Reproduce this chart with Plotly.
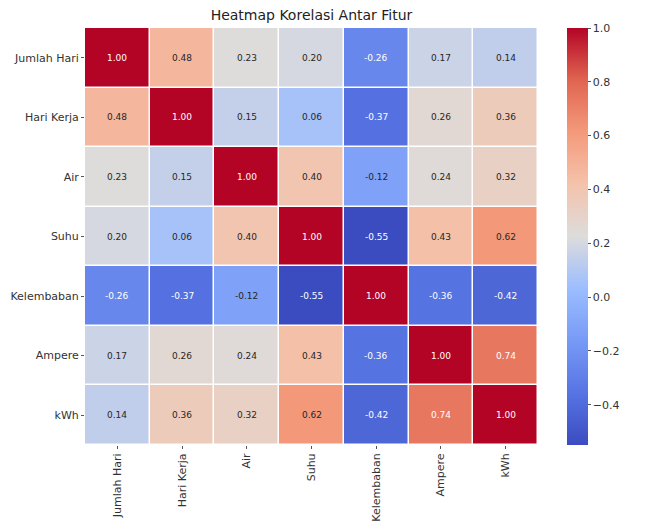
import plotly.graph_objects as go

# Feature names (rows and columns of the correlation matrix)
features = ["Jumlah Hari", "Hari Kerja", "Air", "Suhu", "Kelembaban", "Ampere", "kWh"]

# Pairwise correlation coefficients, one list per feature
corr_jumlah_hari = [1.00, 0.48, 0.23, 0.20, -0.26, 0.17, 0.14]
corr_hari_kerja = [0.48, 1.00, 0.15, 0.06, -0.37, 0.26, 0.36]
corr_air = [0.23, 0.15, 1.00, 0.40, -0.12, 0.24, 0.32]
corr_suhu = [0.20, 0.06, 0.40, 1.00, -0.55, 0.43, 0.62]
corr_kelembaban = [-0.26, -0.37, -0.12, -0.55, 1.00, -0.36, -0.42]
corr_ampere = [0.17, 0.26, 0.24, 0.43, -0.36, 1.00, 0.74]
corr_kwh = [0.14, 0.36, 0.32, 0.62, -0.42, 0.74, 1.00]

colorbar_ticks = [-0.4, -0.2, 0.0, 0.2, 0.4, 0.6, 0.8, 1.0]

matrix = [corr_jumlah_hari, corr_hari_kerja, corr_air, corr_suhu,
          corr_kelembaban, corr_ampere, corr_kwh]

# Diverging blue-grey-red scale (coolwarm style)
coolwarm = [
    [0.000, "rgb(59,76,192)"],
    [0.125, "rgb(87,116,227)"],
    [0.250, "rgb(119,154,246)"],
    [0.375, "rgb(156,189,254)"],
    [0.500, "rgb(221,220,220)"],
    [0.625, "rgb(244,195,171)"],
    [0.750, "rgb(244,154,123)"],
    [0.875, "rgb(224,101,80)"],
    [1.000, "rgb(180,4,38)"],
]

zmin = min(min(r) for r in matrix)
zmax = max(max(r) for r in matrix)

fig = go.Figure(go.Heatmap(
    z=matrix,
    x=features,
    y=features,
    colorscale=coolwarm,
    zmin=zmin,
    zmax=zmax,
    xgap=1.5,
    ygap=1.5,
    showscale=True,
    colorbar=dict(
        x=(567 - 85) / 453, xanchor="left", xref="paper",
        y=0.5, yanchor="middle", len=1.0, lenmode="fraction",
        xpad=0, ypad=0,
        thickness=21, outlinewidth=0,
        tickvals=colorbar_ticks,
        ticktext=[f"{t:.1f}".replace("-", "\u2212") for t in colorbar_ticks],
        ticks="outside", ticklen=3, tickcolor="#555",
        tickfont=dict(family="DejaVu Sans", size=11, color="#333"),
    ),
    hoverinfo="skip",
))

# Value labels in each cell
for i, row_name in enumerate(features):
    for j, col_name in enumerate(features):
        v = matrix[i][j]
        color = "white" if (v < -0.2 or v > 0.7) else "#262626"
        fig.add_annotation(
            x=col_name, y=row_name, text=f"{v:.2f}", showarrow=False,
            font=dict(family="DejaVu Sans", size=9, color=color),
        )

fig.update_layout(
    width=664, height=527,
    margin=dict(l=85, r=126, t=28, b=82, autoexpand=False),
    paper_bgcolor="white",
    plot_bgcolor="white",
    title=dict(
        text="Heatmap Korelasi Antar Fitur",
        x=(85 + 453 / 2) / 664, xanchor="center",
        y=1 - 15 / 527, yanchor="middle",
        font=dict(family="DejaVu Sans", size=14, color="#222"),
    ),
    xaxis=dict(
        tickangle=-90, ticks="outside", ticklen=3, tickcolor="#555",
        tickfont=dict(family="DejaVu Sans", size=11, color="#333"),
        showgrid=False, zeroline=False, showline=False, automargin=False,
    ),
    yaxis=dict(
        autorange="reversed", ticks="outside", ticklen=3, tickcolor="#555",
        tickfont=dict(family="DejaVu Sans", size=11, color="#333"),
        showgrid=False, zeroline=False, showline=False, automargin=False,
    ),
)

fig.write_html("out.html")
